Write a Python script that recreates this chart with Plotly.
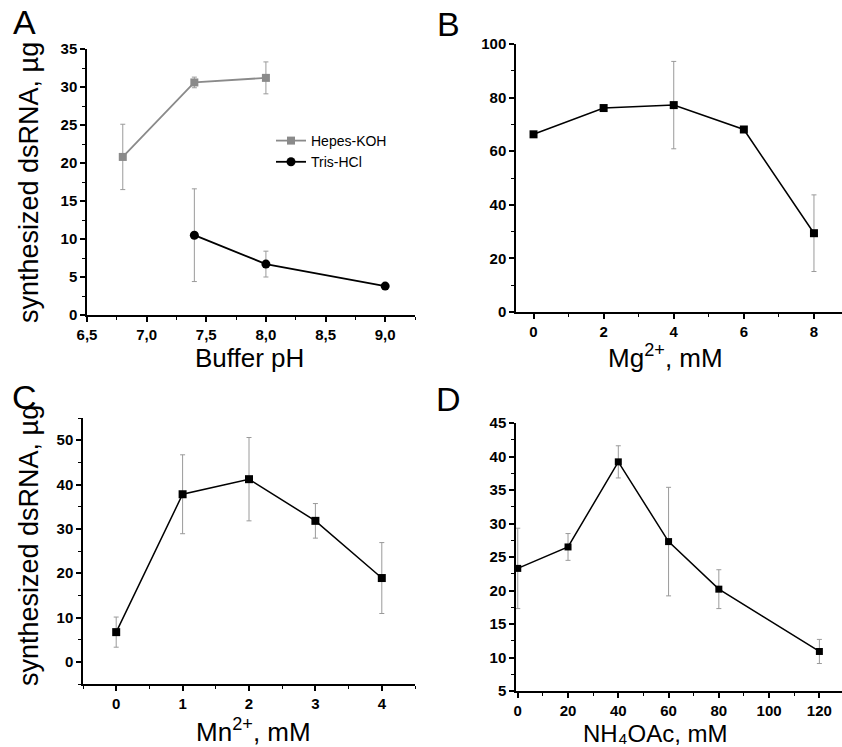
import plotly.graph_objects as go

# ---------------- data ----------------
ph_hepes = [6.8, 7.4, 8.0]
hepes_y = [20.8, 30.6, 31.2]
hepes_err = [4.3, 0.7, 2.1]

ph_tris = [7.4, 8.0, 9.0]
tris_y = [10.5, 6.7, 3.8]
tris_err = [6.1, 1.7, 0.0]

mg_x = [0, 2, 4, 6, 8]
mg_y = [66.3, 76.1, 77.2, 68.1, 29.4]
mg_err = [0.0, 0.0, 16.3, 0.0, 14.3]

mn_x = [0, 1, 2, 3, 4]
mn_y = [6.7, 37.8, 41.2, 31.8, 18.9]
mn_err = [3.4, 8.9, 9.4, 3.9, 8.0]

nh_x = [0, 20, 40, 60, 80, 120]
nh_y = [23.3, 26.5, 39.2, 27.3, 20.2, 10.9]
nh_err = [6.0, 2.0, 2.4, 8.1, 2.9, 1.8]

ph_ticks = [6.5, 7.0, 7.5, 8.0, 8.5, 9.0]
ph_labels = ["6,5", "7,0", "7,5", "8,0", "8,5", "9,0"]

W, H = 842, 747

def dx(a, b):
    return [a / W, b / W]

def dy(top, bottom):
    return [1 - bottom / H, 1 - top / H]

fig = go.Figure()

ERR_COL = "#9a9a9a"

def err(arr):
    return dict(type="data", array=arr, visible=True, color=ERR_COL, thickness=1, width=2.5)

fig.add_trace(go.Scatter(x=ph_hepes, y=hepes_y, error_y=err(hepes_err), mode="lines+markers",
                         name="Hepes-KOH", line=dict(color="#8a8a8a", width=1.8),
                         marker=dict(symbol="square", size=8, color="#8a8a8a"),
                         xaxis="x", yaxis="y"))
fig.add_trace(go.Scatter(x=ph_tris, y=tris_y, error_y=err(tris_err), mode="lines+markers",
                         name="Tris-HCl", line=dict(color="black", width=1.8),
                         marker=dict(symbol="circle", size=9, color="black"),
                         xaxis="x", yaxis="y"))
fig.add_trace(go.Scatter(x=mg_x, y=mg_y, error_y=err(mg_err), mode="lines+markers",
                         showlegend=False, line=dict(color="black", width=1.5),
                         marker=dict(symbol="square", size=8, color="black"),
                         xaxis="x2", yaxis="y2"))
fig.add_trace(go.Scatter(x=mn_x, y=mn_y, error_y=err(mn_err), mode="lines+markers",
                         showlegend=False, line=dict(color="black", width=1.5),
                         marker=dict(symbol="square", size=8, color="black"),
                         xaxis="x3", yaxis="y3"))
fig.add_trace(go.Scatter(x=nh_x, y=nh_y, error_y=err(nh_err), mode="lines+markers",
                         showlegend=False, line=dict(color="black", width=1.5),
                         marker=dict(symbol="square", size=7, color="black"),
                         xaxis="x4", yaxis="y4"))

TICKFONT = dict(family="Liberation Sans, Arial, sans-serif", size=15, color="black", weight="bold")

def axis(domain, rng, dtick, minor_dtick, anchor, tick0=None, **kw):
    d = dict(domain=domain, range=rng, anchor=anchor, showline=True, linecolor="black",
             linewidth=1.5, ticks="outside", ticklen=5, tickwidth=1.5, tickcolor="black",
             showgrid=False, zeroline=False, tickfont=TICKFONT, automargin=False,
             minor=dict(ticks="outside", ticklen=3, tickwidth=1.2, tickcolor="black", dtick=minor_dtick),
             mirror=False)
    if dtick is not None:
        d["dtick"] = dtick
    if tick0 is not None:
        d["tick0"] = tick0
        d["minor"]["tick0"] = tick0
    d.update(kw)
    return d

fig.update_layout(
    width=W, height=H,
    margin=dict(l=0, r=0, t=0, b=0, pad=0),
    paper_bgcolor="white", plot_bgcolor="white",
    showlegend=True,
    legend=dict(x=271 / W, y=1 - 125 / H, xanchor="left", yanchor="top",
                bgcolor="rgba(0,0,0,0)", font=dict(family="Liberation Sans, Arial, sans-serif", size=14, color="black"),
                tracegroupgap=0, itemwidth=30),
    xaxis=axis(dx(87, 415), [6.5, 9.25], None, 0.25, "y", tick0=6.5,
               tickmode="array", tickvals=ph_ticks, ticktext=ph_labels),
    yaxis=axis(dy(49, 315), [0, 35], 5, 2.5, "x", tick0=0),
    xaxis2=axis(dx(516, 842), [-0.5, 8.8], 2, 1, "y2", tick0=0),
    yaxis2=axis(dy(44, 312), [0, 100], 20, 10, "x2", tick0=0),
    xaxis3=axis(dx(83, 415), [-0.5, 4.5], 1, 0.5, "y3", tick0=0),
    yaxis3=axis(dy(418, 684), [-5, 55], 10, 5, "x3", tick0=0),
    xaxis4=axis(dx(516, 842), [-0.7, 129], 20, 10, "y4", tick0=0),
    yaxis4=axis(dy(423, 691), [5, 45], 5, 2.5, "x4", tick0=5),
)

TITLEFONT = dict(family="Liberation Sans, Arial, sans-serif", size=26, color="black")
NHFONT = dict(family="Liberation Sans, Arial, sans-serif", size=24, color="black")
YTITLEFONT = dict(family="Liberation Sans, Arial, sans-serif", size=27, color="black")
LABELFONT = dict(family="Liberation Sans, Arial, sans-serif", size=34, color="black")

def ann(text, x, y, font, angle=0):
    fig.add_annotation(text=text, x=x / W, y=1 - y / H, xref="paper", yref="paper",
                       showarrow=False, font=font, textangle=angle,
                       xanchor="center", yanchor="middle")

ann("A", 24, 22, LABELFONT)
ann("B", 448, 24, LABELFONT)
ann("C", 24, 397, LABELFONT)
ann("D", 448, 399, LABELFONT)

ann("Buffer pH", 249, 358, TITLEFONT)
ann("Mg<sup>2+</sup>, mM", 665, 357, TITLEFONT)
ann("Mn<sup>2+</sup>, mM", 253, 730, TITLEFONT)
ann("NH₄OAc, mM", 655, 733, NHFONT)

ann("synthesized dsRNA, µg", 29, 183, YTITLEFONT, -90)
ann("synthesized dsRNA, µg", 29, 546, YTITLEFONT, -90)

fig.write_html("out.html",
               config={"displayModeBar": False},
               post_script="document.body.style.margin='0px';document.body.style.overflow='hidden';")
